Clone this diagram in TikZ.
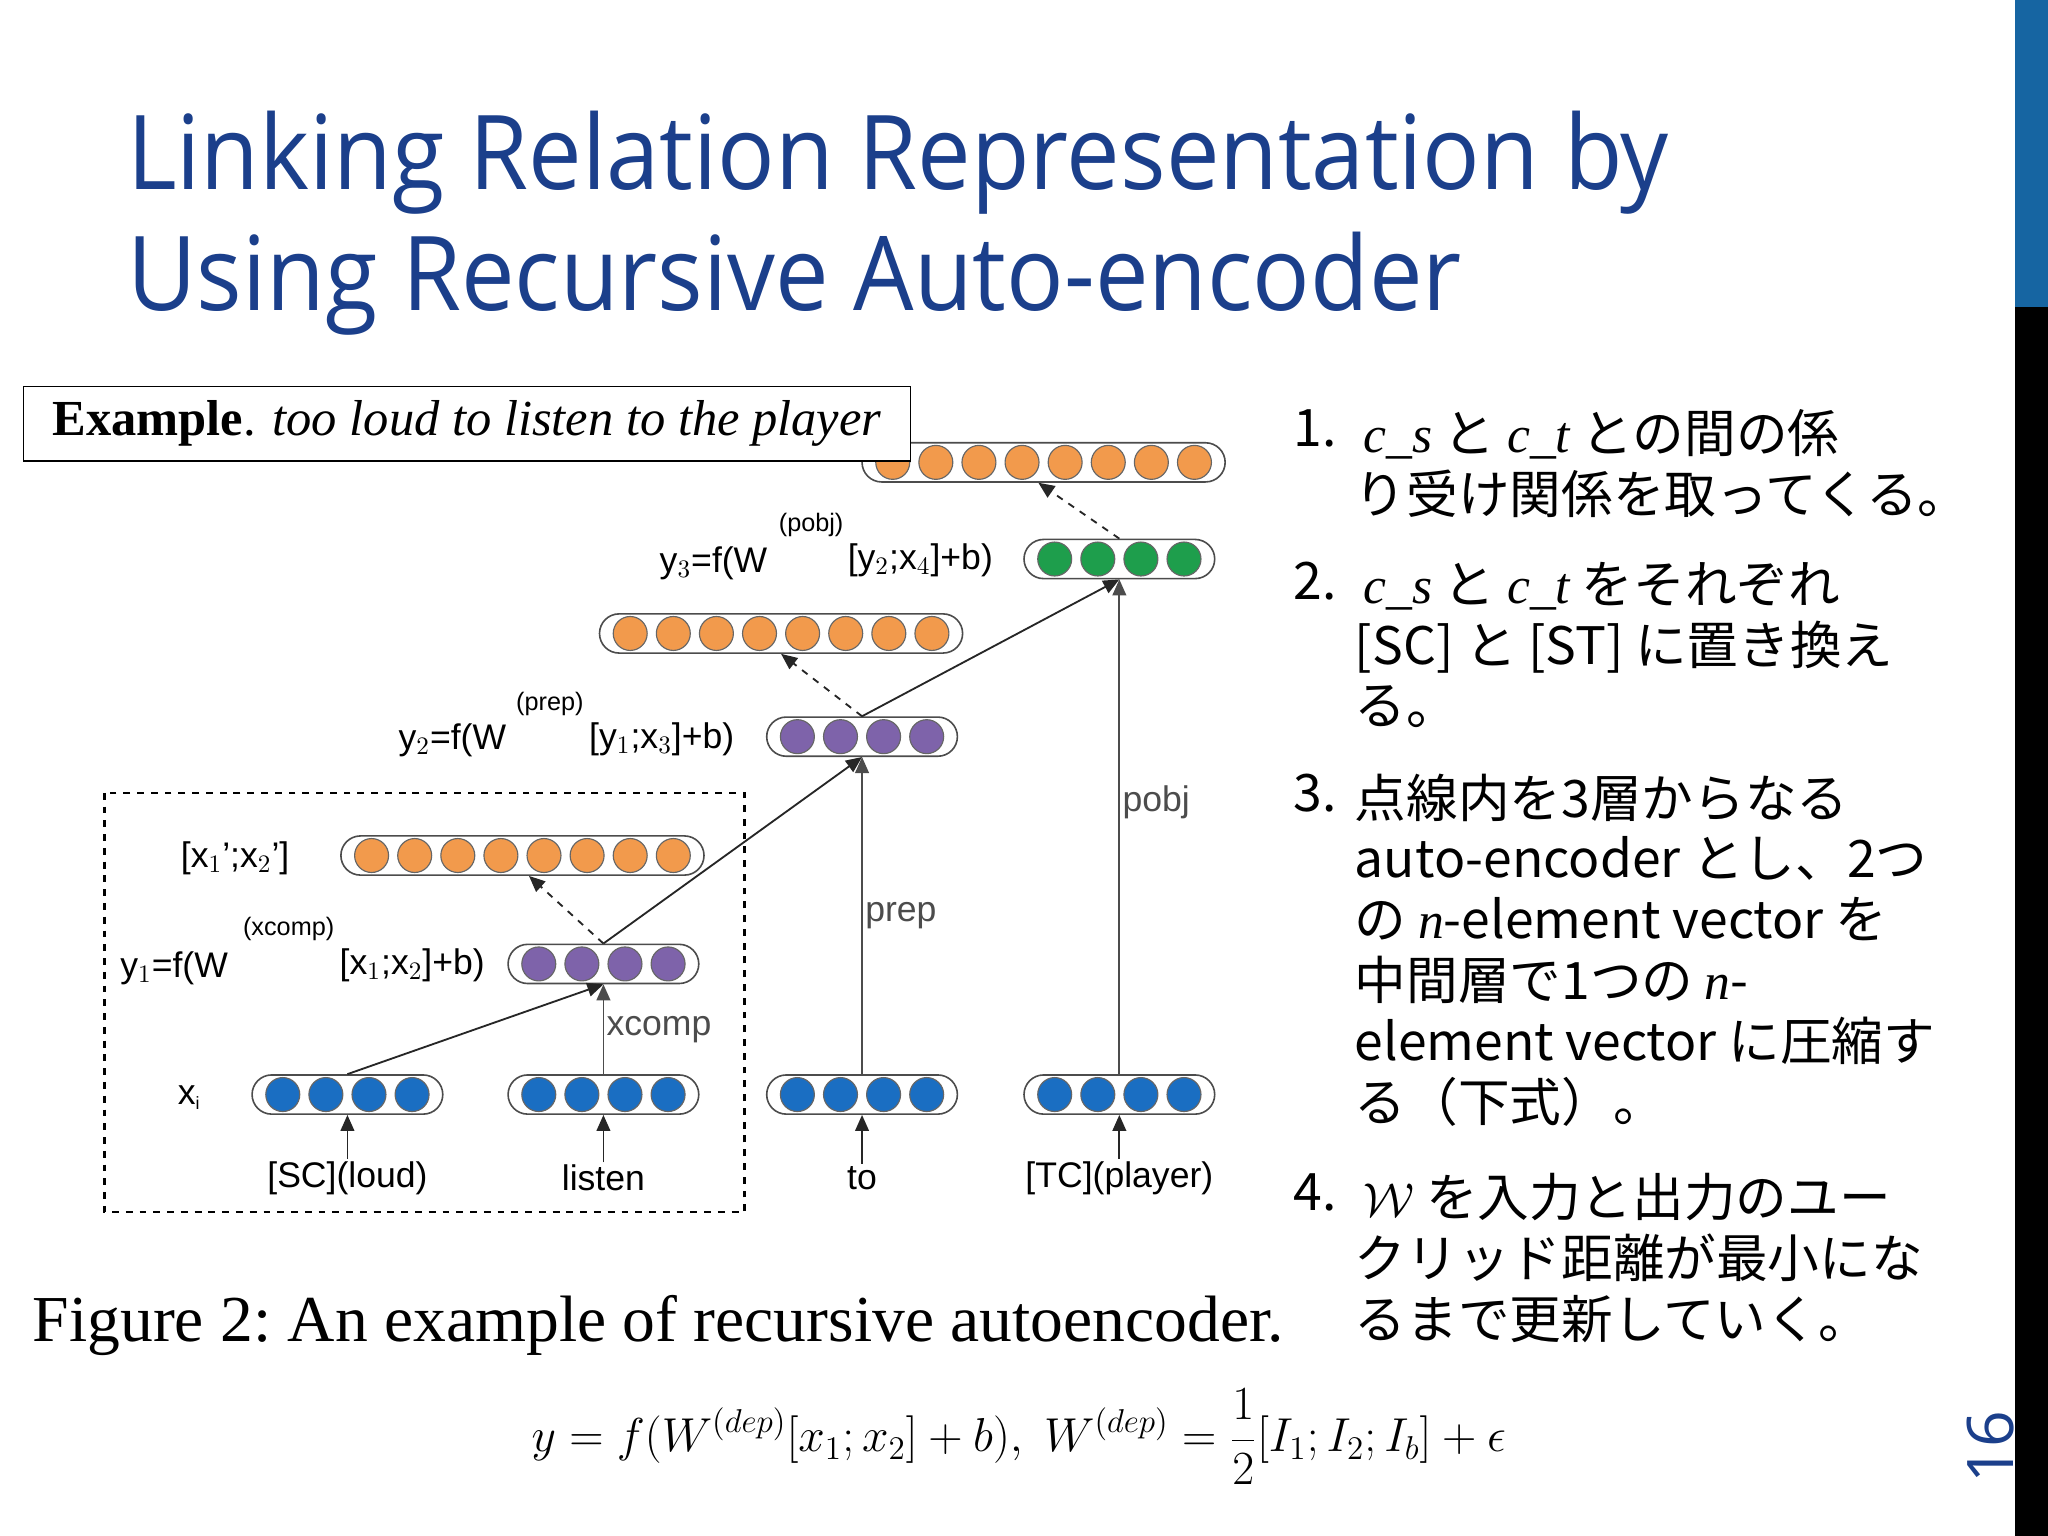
\documentclass[tikz,border=0pt]{standalone}
\usepackage{fontspec}
\setmainfont{Liberation Sans}
\newfontfamily\jp{Noto Sans CJK JP}
\newfontfamily\ttl{Open Sans}
\newfontfamily\serif{Liberation Serif}
\usetikzlibrary{arrows.meta,calc}
\definecolor{tblue}{HTML}{1B3F8B}
\definecolor{corange}{HTML}{F29A4C}
\definecolor{cpurple}{HTML}{7E63AA}
\definecolor{cgreen}{HTML}{1E9E4C}
\definecolor{cblue}{HTML}{1A6EC2}
\tikzset{
  pill/.style={draw=black!70, line width=0.7pt, rounded corners=0.3cm, minimum height=0.6cm, inner sep=0pt},
  dot/.style={circle, draw=black!60, line width=0.5pt, minimum size=0.52cm, inner sep=0pt},
  lab/.style={font=\fontsize{15.5}{17}\selectfont, inner sep=1pt},
  sup/.style={font=\fontsize{11}{13}\selectfont, inner sep=1pt},
  solidarr/.style={-{Triangle[length=7pt,width=6pt]}, line width=0.8pt, black!85},
  dasharr/.style={-{Triangle[length=7pt,width=6pt]}, line width=0.8pt, dashed, black!85},
  jptext/.style={font=\jp\fontsize{22.5}{26.5}\selectfont, anchor=north west, align=left, inner sep=0pt},
}
\newcommand{\vrow}[5]{% name, cx, cy, n, color
  \pgfmathsetmacro{\pw}{(#4*33+14)*0.02}
  \node[pill, minimum width=\pw cm] (#1) at (#2,#3) {};
  \foreach \k in {1,...,#4}{
    \pgfmathsetmacro{\dx}{(\k-(#4+1)/2)*33}
    \node[dot, fill=#5] at ($(#1)+(\dx,0)$) {};
  }
}
\begin{document}
\begin{tikzpicture}[x=0.02cm, y=-0.02cm]
\useasboundingbox (0,0) rectangle (1568,1176);
\fill[white] (0,0) rectangle (1568,1176);
% right bar
\fill[black] (1543,235) rectangle (1568,1176);
\fill[tblue!80!cyan] (1543,0) rectangle (1568,235);
\node[rotate=90, text=tblue, font=\ttl\fontsize{28}{30}\selectfont, inner sep=0pt] (pg) at (1524,1108) {16};
% title
\node[anchor=base west, text=tblue, inner sep=0pt, font=\ttl\fontsize{45}{50}\selectfont] (t1) at (97,145) {\scalebox{0.925}[1]{Linking Relation Representation by}};
\node[anchor=base west, text=tblue, inner sep=0pt, font=\ttl\fontsize{45}{50}\selectfont] (t2) at (97,238) {\scalebox{0.925}[1]{Using Recursive Auto-encoder}};
% dashed box
\draw[dashed, line width=1pt] (80,607) rectangle (570,928);
% vectors
\vrow{v1}{266}{838}{4}{cblue}
\vrow{v2}{462}{838}{4}{cblue}
\vrow{v3}{660}{838}{4}{cblue}
\vrow{v4}{857}{838}{4}{cblue}
\vrow{p1}{462}{738}{4}{cpurple}
\vrow{o1}{400}{655}{8}{corange}
\vrow{p2}{660}{564}{4}{cpurple}
\vrow{o2}{598}{485}{8}{corange}
\vrow{g3}{857}{428}{4}{cgreen}
\vrow{o3}{799}{354}{8}{corange}
% example box
\node[draw, fill=white, line width=0.7pt, minimum width=679*0.02cm, minimum height=57*0.02cm, font=\serif\fontsize{22}{24}\selectfont] (ex) at (357.5,324.5) {\scalebox{1.0}[1]{\textbf{Example}. \textit{too loud to listen to the player}}};
% words
\node[lab] (w1) at (266,902) {[SC](loud)};
\node[lab] (w2) at (462,902) {listen};
\node[lab] (w3) at (660,902) {to};
\node[lab] (w4) at (857,902) {[TC](player)};
\foreach \w/\v in {w1/v1,w2/v2,w3/v3,w4/v4}{
  \draw[solidarr] (\w.north) -- (\v.south);
}
% edges
\draw[solidarr] (v1.north) -- (p1.south);
\draw[solidarr, black!70] (v2.north) -- node[lab, right, pos=0.5]{xcomp} (p1.south);
\draw[dasharr] (p1.north) -- ($(o1.south)+(5,0)$);
\draw[solidarr] (p1.north) -- (p2.south);
\draw[solidarr, black!70] (v3.north) -- node[lab, right, pos=0.5]{prep} (p2.south);
\draw[dasharr] (p2.north) -- (o2.south);
\draw[solidarr] (p2.north) -- (g3.south);
\draw[solidarr, black!70] (v4.north) -- node[lab, right, pos=0.55]{pobj} (g3.south);
\draw[dasharr] (g3.north) -- ($(o3.south)+(-4,0)$);
% labels
\node[lab] (xi) at (145,840) {x$_{\scriptscriptstyle\mathrm{i}}$};
\node[lab] (xx) at (180,657) {[x$_{1}$';x$_{2}$']};
\node[lab, anchor=west] (y1a) at (90,741) {y$_1$=f(W};
\node[sup] (y1s) at (221,711) {(xcomp)};
\node[lab, anchor=west] (y1b) at (258,739) {[x$_1$;x$_2$]+b)};
\node[lab, anchor=west] (y2a) at (303,567) {y$_2$=f(W};
\node[sup] (y2s) at (421,539) {(prep)};
\node[lab, anchor=west] (y2b) at (449,566) {[y$_1$;x$_3$]+b)};
\node[lab, anchor=west] (y3a) at (503,431) {y$_3$=f(W};
\node[sup] (y3s) at (621,402) {(pobj)};
\node[lab, anchor=west] (y3b) at (647,429) {[y$_2$;x$_4$]+b)};
% caption
\node[font=\serif, inner sep=0pt] (cap) at (504,1015) {\resizebox{545pt}{!}{Figure 2:\ An example of recursive autoencoder.}};
% formula
\node[inner sep=0pt, font=\fontsize{21}{24}\selectfont] (eq) at (780,1100) {$\displaystyle y=f(W^{(dep)}[x_1;x_2]+b),\ W^{(dep)}=\frac{1}{2}[I_1;I_2;I_b]+\epsilon$};
% list
\newcommand{\cs}{{\serif\itshape c\_s}}
\newcommand{\ct}{{\serif\itshape c\_t}}
\node[jptext] (n1) at (990,313) {1.};
\node[jptext] (l1) at (1037,313) {\,\cs\ と \ct\ との間の係\\り受け関係を取ってくる。};
\node[jptext] (n2) at (990,430) {2.};
\node[jptext] (l2) at (1037,430) {\,\cs\ と \ct\ をそれぞれ\\{[SC]} と [ST] に置き換え\\る。};
\node[jptext] (n3) at (990,592) {3.};
\node[jptext] (l3) at (1037,592) {点線内を3層からなる\\auto-encoder とし、2つ\\の {\serif\itshape n}-element vector を\\中間層で1つの {\serif\itshape n}-\\element vector に圧縮す\\る（下式）。};
\node[jptext] (n4) at (990,898) {4.};
\node[jptext] (l4) at (1037,898) {\,$\mathcal{W}$ を入力と出力のユー\\クリッド距離が最小にな\\るまで更新していく。};
\end{tikzpicture}
\end{document}
